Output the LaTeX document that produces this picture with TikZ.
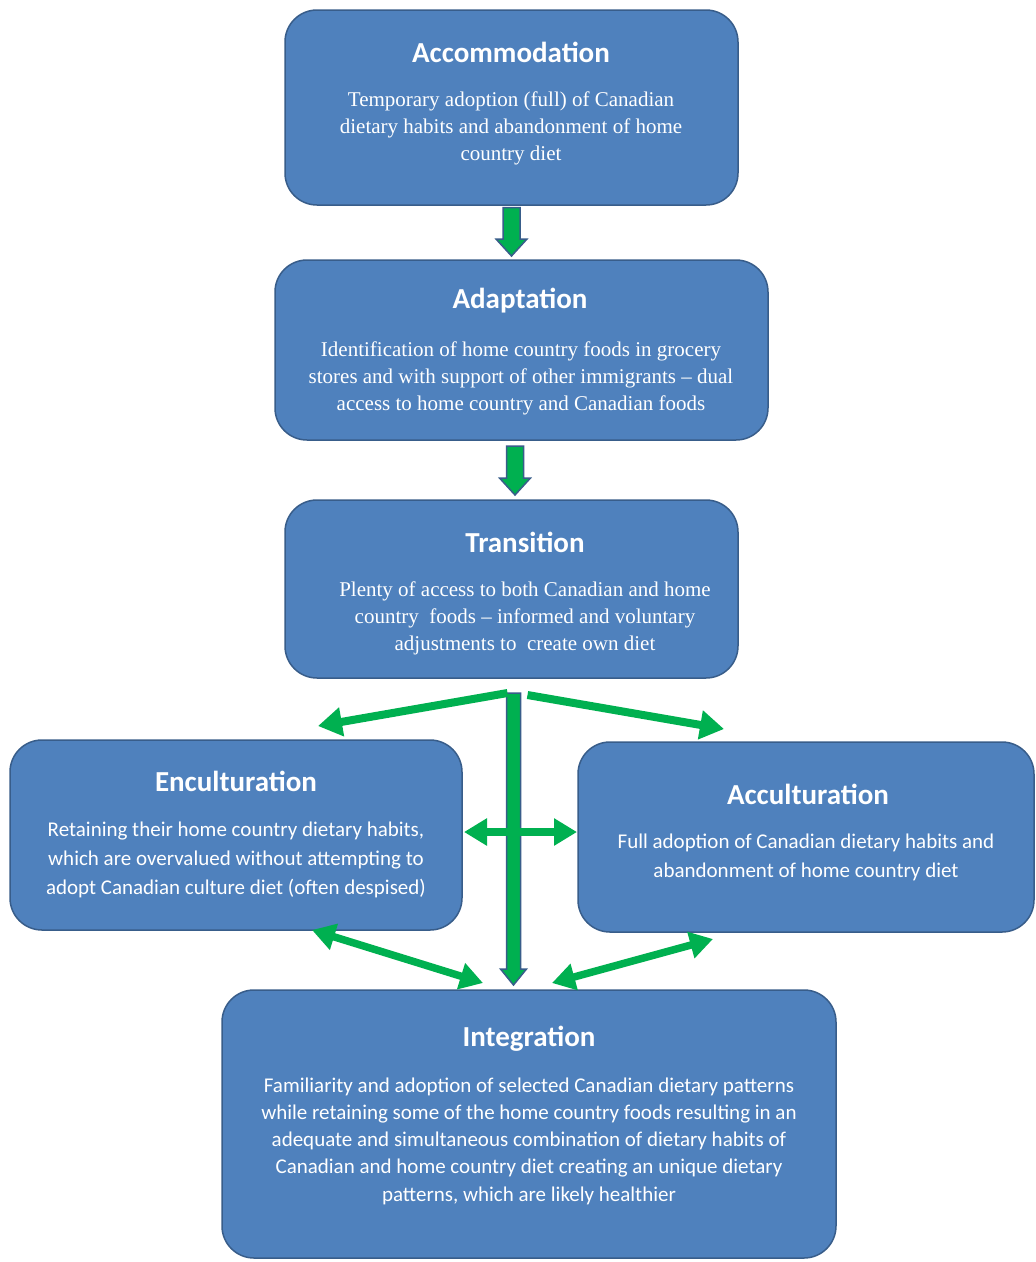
\documentclass[tikz,border=0pt]{standalone}
\usepackage{fontspec}
\setmainfont{Liberation Serif}
\newfontfamily\calfont{Carlito}
\usetikzlibrary{arrows.meta,calc}
\definecolor{boxblue}{RGB}{79,129,189}
\definecolor{boxedge}{RGB}{56,93,138}
\definecolor{arrgreen}{RGB}{0,176,80}
\newcommand{\vblock}[5]{%
  \draw[blockarr] ($(#1)+(-#3,0)$) -- ($(#2)+(-#3,-#5)$) -- ($(#2)+(-#4,-#5)$) -- (#2)
    -- ($(#2)+(#4,-#5)$) -- ($(#2)+(#3,-#5)$) -- ($(#1)+(#3,0)$) -- cycle;}
\begin{document}
\begin{tikzpicture}[x=1pt,y=-1pt,
  stagebox/.style={draw=boxedge,fill=boxblue,line width=1.5pt,rounded corners=32pt,inner sep=0pt,outer sep=0pt},
  titletxt/.style={text=white,font=\calfont\bfseries\fontsize{29}{34}\selectfont,inner sep=0pt},
  serifbody/.style={text=white,align=center,font=\fontsize{21}{27}\selectfont,inner sep=0pt},
  sansbody/.style={text=white,align=center,font=\calfont\fontsize{21}{29}\selectfont,inner sep=0pt},
  sansbodyb/.style={text=white,align=center,font=\calfont\fontsize{21}{27.3}\selectfont,inner sep=0pt},
  blockarr/.style={fill=arrgreen,draw=boxedge,line width=1.5pt,line join=miter},
  greenarr/.style={draw=arrgreen,line width=8pt,-{Triangle[width=28pt,length=24pt]}},
  greendbl/.style={draw=arrgreen,line width=7.5pt,{Triangle[width=26pt,length=23pt]}-{Triangle[width=26pt,length=23pt]}}]
\useasboundingbox[fill=white] (0,0) rectangle (1036,1262);

% boxes
\node[stagebox,minimum width=453pt,minimum height=195pt] (acc) at (511.5,107.5) {};
\node[stagebox,minimum width=493pt,minimum height=180pt] (ada) at (521.5,350) {};
\node[stagebox,minimum width=453pt,minimum height=178pt] (tra) at (511.5,589) {};
\node[stagebox,minimum width=452pt,minimum height=190pt] (enc) at (236,835) {};
\node[stagebox,minimum width=456pt,minimum height=190pt] (acu) at (806,837) {};
\node[stagebox,minimum width=614pt,minimum height=268pt] (int) at (529,1124) {};

% texts
\node[titletxt] (acct) at (511,52) {Accommodation};
\node[serifbody] (accb) at (511,128) {Temporary adoption (full) of Canadian\\dietary habits and abandonment of home\\country diet};
\node[titletxt] (adat) at (520,301) {Adaptation};
\node[serifbody] (adab) at (521,378) {Identification of home country foods in grocery\\stores and with support of other immigrants -- dual\\access to home country and Canadian foods};
\node[titletxt] (trat) at (525,542) {Transition};
\node[serifbody] (trab) at (525,618) {Plenty of access to both Canadian and home\\country\ \ foods -- informed and voluntary\\adjustments to\ \ create own diet};
\node[titletxt] (enct) at (236,781) {Enculturation};
\node[sansbody] (encb) at (236,860) {Retaining their home country dietary habits,\\which are overvalued without attempting to\\adopt Canadian culture diet (often despised)};
\node[titletxt] (acut) at (808,794) {Acculturation};
\node[sansbody] (acub) at (806,857.5) {Full adoption of Canadian dietary habits and\\abandonment of home country diet};
\node[titletxt] (intt) at (529,1039) {Integration};
\node[sansbodyb] (intb) at (529,1141) {Familiarity and adoption of selected Canadian dietary patterns\\while retaining some of the home country foods resulting in an\\adequate and simultaneous combination of dietary habits of\\Canadian and home country diet creating an unique dietary\\patterns, which are likely healthier};

% block arrows
\coordinate (a1s) at ($(acc.south)+(0,2.5)$);
\coordinate (a1e) at ($(ada.north)+(-10,-4)$);
\vblock{a1s}{a1e}{8.5}{15.5}{17}
\coordinate (a2s) at ($(ada.south)+(-6.5,6)$);
\coordinate (a2e) at ($(tra.north)+(3.5,-5)$);
\vblock{a2s}{a2e}{8.5}{15.5}{17}
\coordinate (a3s) at ($(tra.south)+(2,15)$);
\coordinate (a3e) at ($(int.north)+(-15.5,-5)$);
\vblock{a3s}{a3e}{7}{13}{16}

% green fan arrows
\coordinate (fl) at ($(tra.south)+(-4,15)$);
\coordinate (fr) at ($(tra.south)+(16,17)$);
\coordinate (flt) at ($(enc.north)+(82,-14)$);
\coordinate (frt) at ($(acu.north)+(-82,-13)$);
\draw[greenarr] (fl) -- (flt);
\draw[greenarr] (fr) -- (frt);

% double arrows
\coordinate (hl) at ($(enc.east)+(2,-3)$);
\coordinate (hr) at ($(acu.west)+(-1,-5)$);
\draw[greendbl] (hl) -- (hr);
\coordinate (el) at ($(enc.south)+(76,0)$);
\coordinate (ei) at ($(int.north)+(-46,-7)$);
\draw[greendbl] (el) -- (ei);
\coordinate (ar) at ($(acu.south)+(-93,7)$);
\coordinate (ai) at ($(int.north)+(23,-7)$);
\draw[greendbl] (ai) -- (ar);
\end{tikzpicture}
\end{document}
